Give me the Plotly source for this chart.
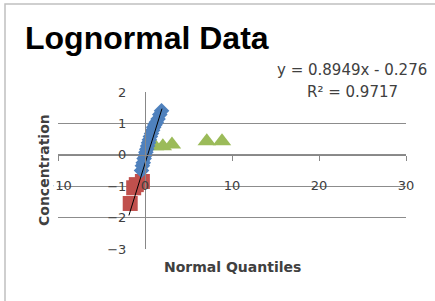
import plotly.graph_objects as go

# ---- data ----
blue_x = [-0.40, -0.30, -0.20, -0.10, 0.00, 0.10, 0.20, 0.30, 0.40, 0.50, 0.62, 0.75, 0.88, 1.00, 1.15, 1.30, 1.50, 1.70, 1.90]
blue_y = [-0.50, -0.35, -0.25, -0.12, -0.02, 0.08, 0.18, 0.28, 0.38, 0.48, 0.58, 0.68, 0.78, 0.88, 0.96, 1.04, 1.14, 1.28, 1.40]
red_x = [-1.70, -1.30, -1.00, -0.30]
red_y = [-1.55, -1.05, -0.95, -0.85]
green_x = [1.15, 2.05, 3.10, 7.10, 8.85]
green_y = [0.27, 0.27, 0.33, 0.43, 0.43]
slope = 0.8949
intercept = -0.276
r2 = 0.9717
trend_x = [-1.85, 1.95]
x_ticks = [-10, 0, 10, 20, 30]
y_ticks = [-3, -2, -1, 0, 1, 2]

W, H = 435, 301
xl, xr = 58, 406
yt, yb = 92, 249
xdom = [xl / W, xr / W]
ydom = [(H - yb) / H, (H - yt) / H]
xr_ = [-10, 30]
yr_ = [-3, 2]
xaxis_pos = ydom[0] + (0 - yr_[0]) / (yr_[1] - yr_[0]) * (ydom[1] - ydom[0])
yaxis_pos = xdom[0] + (0 - xr_[0]) / (xr_[1] - xr_[0]) * (xdom[1] - xdom[0])

fig = go.Figure()
fig.add_trace(go.Scatter(x=green_x, y=green_y, mode="markers",
                         marker=dict(symbol="triangle-up", size=16, color="#9BBB59")))
fig.add_trace(go.Scatter(x=red_x, y=red_y, mode="markers",
                         marker=dict(symbol="square", size=15, color="#C0504D")))
fig.add_trace(go.Scatter(x=blue_x, y=blue_y, mode="markers",
                         marker=dict(symbol="diamond", size=12, color="#4F81BD")))
fig.add_trace(go.Scatter(x=trend_x, y=[slope * v + intercept for v in trend_x], mode="lines",
                         line=dict(color="black", width=1)))

tick_font = dict(family="DejaVu Sans", size=13, color="#404040")
fig.update_layout(
    width=W, height=H, margin=dict(l=0, r=0, t=0, b=0, autoexpand=False),
    paper_bgcolor="white", plot_bgcolor="white", showlegend=False,
    xaxis=dict(domain=xdom, range=xr_, anchor="free", position=xaxis_pos, automargin=False,
               showgrid=False, zeroline=False, showline=True, linecolor="#888888", linewidth=1,
               ticks="outside", ticklen=5, tickcolor="#888888", tickvals=x_ticks,
               tickfont=tick_font, ticklabelstandoff=14),
    yaxis=dict(domain=ydom, range=yr_, anchor="free", position=yaxis_pos, automargin=False,
               showgrid=True, gridcolor="#8c8c8c", gridwidth=1, zeroline=False,
               showline=True, linecolor="#888888", linewidth=1, ticks="",
               tickvals=y_ticks, tickfont=tick_font, ticklabelstandoff=16),
    shapes=[dict(type="rect", xref="paper", yref="paper", x0=5 / W, x1=1.2, y0=-0.2, y1=(H - 4) / H,
                 line=dict(color="#c0c0c0", width=1.5), fillcolor="rgba(0,0,0,0)", layer="below")],
    annotations=[
        dict(text="Lognormal Data", xref="paper", yref="paper", x=147 / W, y=(H - 38) / H,
             showarrow=False, font=dict(family="Liberation Sans", size=32, color="black"),
             xanchor="center", yanchor="middle"),
        dict(text=f"y = {slope}x - {abs(intercept)}", xref="paper", yref="paper", x=352 / W, y=(H - 70) / H,
             showarrow=False, font=dict(family="DejaVu Sans", size=15, color="#404040"),
             xanchor="center", yanchor="middle"),
        dict(text=f"R² = {r2}", xref="paper", yref="paper", x=352 / W, y=(H - 92) / H,
             showarrow=False, font=dict(family="DejaVu Sans", size=15, color="#404040"),
             xanchor="center", yanchor="middle"),
        dict(text="<b>Normal Quantiles</b>", xref="paper", yref="paper", x=232 / W, y=(H - 267) / H,
             showarrow=False, font=dict(family="DejaVu Sans", size=14, color="#404040"),
             xanchor="center", yanchor="middle"),
        dict(text="<b>Concentration</b>", xref="paper", yref="paper", x=44 / W, y=(H - 170) / H,
             showarrow=False, textangle=-90, font=dict(family="DejaVu Sans", size=14, color="#404040"),
             xanchor="center", yanchor="middle", bgcolor="white"),
    ],
)
fig.layout.annotations[0].font.weight = "bold"
fig.write_html("out.html", config={"displayModeBar": False},
               post_script="document.body.style.margin='0';document.body.style.overflow='hidden';")
